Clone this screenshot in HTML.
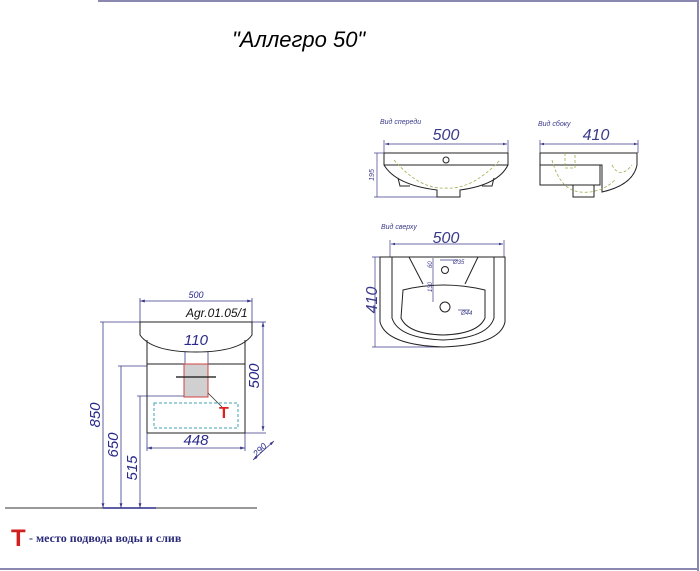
<!DOCTYPE html>
<html><head><meta charset="utf-8"><style>
html,body{margin:0;padding:0;background:#fff;width:700px;height:571px;overflow:hidden}
svg{display:block}
text{font-family:"Liberation Sans",sans-serif}
</style></head><body>
<svg width="700" height="571" viewBox="0 0 700 571">
<defs>
<marker id="a" viewBox="0 0 10 10" refX="10" refY="5" markerWidth="6" markerHeight="6" orient="auto-start-reverse"><path d="M0,2 L10,5 L0,8z" fill="#3a3a8a"/></marker>
</defs>
<g stroke="#8a88b0" stroke-width="2" fill="none">
<line x1="98" y1="1" x2="699" y2="1"/><line x1="698" y1="0" x2="698" y2="571"/><line x1="0" y1="569" x2="699" y2="569"/>
</g>
<text x="232" y="47" font-size="22" font-style="italic" fill="#000">"Аллегро 50"</text>

<g stroke="#3a3a8a" stroke-width="0.8" fill="none">
<line x1="140" y1="301" x2="252" y2="301" marker-start="url(#a)" marker-end="url(#a)"/>
<line x1="140" y1="298" x2="140" y2="322"/><line x1="252" y1="298" x2="252" y2="322"/>
<line x1="103" y1="322" x2="103" y2="508" marker-end="url(#a)"/>
<line x1="100" y1="322" x2="140" y2="322"/>
<line x1="121" y1="366" x2="121" y2="508" marker-end="url(#a)"/>
<line x1="118" y1="366" x2="147" y2="366"/>
<line x1="140" y1="396" x2="140" y2="508" marker-end="url(#a)"/>
<line x1="137" y1="396" x2="184" y2="396"/>
<line x1="263" y1="322" x2="263" y2="431" marker-start="url(#a)" marker-end="url(#a)"/>
<line x1="252" y1="322" x2="266" y2="322"/><line x1="245" y1="433" x2="266" y2="433"/>
<line x1="147" y1="448" x2="245" y2="448" marker-start="url(#a)" marker-end="url(#a)"/>
<line x1="147" y1="433" x2="147" y2="451"/><line x1="245" y1="433" x2="245" y2="451"/>
<line x1="253" y1="460" x2="274" y2="441" marker-start="url(#a)" marker-end="url(#a)"/>
<line x1="185" y1="347" x2="185" y2="364"/><line x1="208" y1="347" x2="208" y2="364"/>
<line x1="185" y1="347" x2="208" y2="347"/>
</g>
<line x1="5" y1="508" x2="257" y2="508" stroke="#333" stroke-width="1"/>
<line x1="103" y1="508" x2="156" y2="508" stroke="#2a2a8a" stroke-width="1.5"/>
<g stroke="#222" stroke-width="1" fill="none">
<path d="M140,322 L252,322 L252,335 Q240,352 196,352 Q152,352 140,335 Z" fill="#fff"/>
<line x1="147" y1="340" x2="147" y2="433"/><line x1="245" y1="340" x2="245" y2="433"/>
<line x1="147" y1="364" x2="245" y2="364"/><line x1="147" y1="433" x2="245" y2="433"/>
</g>
<rect x="184" y="364" width="24" height="33" fill="#d0d0d0" stroke="#d04040" stroke-width="1"/>
<line x1="176" y1="377" x2="216" y2="377" stroke="#333" stroke-width="1.5"/>
<rect x="154" y="403" width="84" height="25" fill="none" stroke="#40a0b0" stroke-width="1" stroke-dasharray="3,2"/>
<line x1="208" y1="393" x2="222" y2="407" stroke="#333" stroke-width="0.8"/>
<text x="219" y="418" font-size="16" font-weight="bold" fill="#e02020">T</text>
<g fill="#2a2a8a" font-style="italic">
<text x="196" y="298" font-size="9" text-anchor="middle">500</text>
<text x="186" y="317" font-size="12" fill="#111">Agr.01.05/1</text>
<text x="196" y="345" font-size="15" text-anchor="middle">110</text>
<text x="196" y="445" font-size="15" text-anchor="middle">448</text>
<text transform="translate(259,376) rotate(-90)" font-size="15" text-anchor="middle">500</text>
<text transform="translate(100,415) rotate(-90)" font-size="15" text-anchor="middle">850</text>
<text transform="translate(118,445) rotate(-90)" font-size="15" text-anchor="middle">650</text>
<text transform="translate(137,468) rotate(-90)" font-size="15" text-anchor="middle">515</text>
<text transform="translate(262,452) rotate(-45)" font-size="9" text-anchor="middle">290</text>
</g>
<text x="11" y="546" font-size="24" font-weight="bold" fill="#d02020">T</text>
<text x="29" y="542" font-size="12" font-weight="bold" fill="#2a2a7a" style="font-family:'Liberation Serif',serif">- место подвода воды и слив</text>

<g fill="#3a3a8a" font-style="italic">
<text x="380" y="124" font-size="7">Вид спереди</text>
<text x="538" y="126" font-size="7">Вид сбоку</text>
<text x="381" y="229" font-size="7">Вид сверху</text>
<text x="446" y="140" font-size="16" text-anchor="middle">500</text>
<text x="596" y="140" font-size="16" text-anchor="middle">410</text>
<text x="446" y="243" font-size="16" text-anchor="middle">500</text>
<text transform="translate(377,300) rotate(-90)" font-size="16" text-anchor="middle">410</text>
<text transform="translate(374,175) rotate(-90)" font-size="7" text-anchor="middle">195</text>
</g>
<g stroke="#3a3a8a" stroke-width="0.7" fill="none">
<line x1="385" y1="144" x2="507" y2="144" marker-start="url(#a)" marker-end="url(#a)"/>
<line x1="384" y1="140" x2="384" y2="153"/><line x1="508" y1="140" x2="508" y2="153"/>
<line x1="540" y1="144" x2="638" y2="144" marker-start="url(#a)" marker-end="url(#a)"/>
<line x1="540" y1="140" x2="540" y2="153"/><line x1="638" y1="140" x2="638" y2="153"/>
<line x1="377" y1="153" x2="377" y2="197"/><line x1="374" y1="153" x2="384" y2="153"/><line x1="374" y1="197" x2="437" y2="197"/>
<line x1="391" y1="244" x2="503" y2="244" marker-start="url(#a)" marker-end="url(#a)"/>
<line x1="390" y1="240" x2="390" y2="257"/><line x1="504" y1="240" x2="504" y2="257"/>
<line x1="375" y1="257" x2="375" y2="347"/><line x1="372" y1="257" x2="390" y2="257"/><line x1="372" y1="347" x2="440" y2="347"/>
<line x1="433" y1="258" x2="433" y2="302"/>
<line x1="440" y1="260" x2="458" y2="260"/><line x1="458" y1="310" x2="470" y2="310"/>
</g>
<g stroke="#222" stroke-width="1" fill="none">
<path d="M384,153 L508,153 L508,165 Q498,185 460,190 L460,197 L437,197 L437,190 Q396,185 384,165 Z"/>
<line x1="384" y1="165" x2="508" y2="165"/>
<path d="M398,178 L400,186 L410,186"/><path d="M494,178 L492,186 L482,186"/>
<circle cx="446" cy="160" r="3"/>
<path d="M540,153 L637,153 L637,165 Q633,185 602,192 L602,165 L540,165 Z"/>
<path d="M540,153 L540,185 L600,185 L600,165"/>
<path d="M573,185 L573,197 L594,197 L594,185"/>
<path d="M380,257 L505,257 L505,322 Q500,345 443,347 Q386,345 380,322 Z"/>
<path d="M392,257 L392,318 Q398,338 443,340 Q488,338 494,318 L494,257"/>
<path d="M409,257 L423,284 M478,257 L465,284"/>
<path d="M403,290 Q443,280 485,290 L485,318 Q478,334 443,335 Q408,334 401,318 Z"/>
<circle cx="445" cy="270" r="3.5"/><circle cx="445" cy="307" r="5"/>
</g>
<g stroke="#9ab050" stroke-width="0.8" fill="none" stroke-dasharray="3,2">
<path d="M394,160 Q420,190 446,188 Q472,190 500,160"/>
<path d="M565,153 L565,168 L575,168 L575,153 M612,165 Q620,180 632,165"/>
<path d="M552,160 Q560,190 580,192 Q600,194 615,180"/>
</g>
<g fill="#3a3a8a" font-size="6" font-style="italic">
<text x="453" y="264">Ø35</text><text x="461" y="315">Ø44</text>
<text transform="translate(432,268) rotate(-90)">60</text>
<text transform="translate(432,292) rotate(-90)">130</text>
</g>
</svg>
</body></html>
